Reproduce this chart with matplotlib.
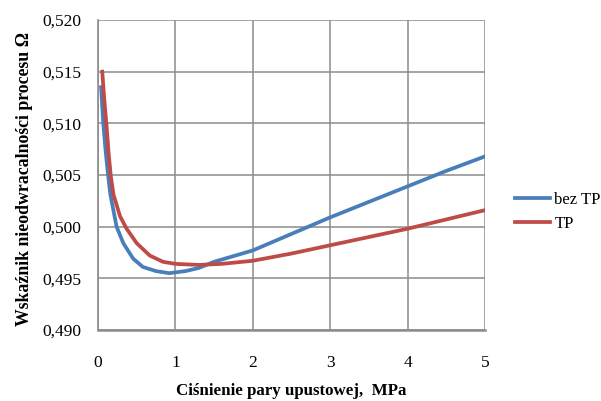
import numpy as np
import matplotlib.pyplot as plt

plt.rcParams['font.family'] = ['Liberation Serif', 'DejaVu Serif']

# bez TP
x_bez = [0.04, 0.068, 0.10, 0.13, 0.16, 0.24, 0.327, 0.455, 0.58, 0.75, 0.92, 1.13, 1.3, 1.5,
         2.0, 2.5, 3.0, 3.5, 4.0, 4.5, 5.0]
y_bez = [0.5135, 0.5100, 0.5072, 0.5050, 0.5031, 0.5000, 0.4984, 0.4969, 0.4961, 0.4957, 0.4955,
         0.4957, 0.4960, 0.4966, 0.4977, 0.4993, 0.5009, 0.5024, 0.5039, 0.5054, 0.5068]

# TP
x_tp = [0.055, 0.08, 0.11, 0.136, 0.165, 0.2, 0.285, 0.37, 0.5, 0.67, 0.84, 1.0, 1.3, 1.6,
        2.0, 2.5, 3.0, 3.5, 4.0, 4.5, 5.0]
y_tp = [0.5150, 0.5124, 0.5098, 0.5072, 0.5049, 0.5031, 0.5010, 0.4998, 0.4984, 0.4972, 0.4966,
        0.4964, 0.4963, 0.4964, 0.4967, 0.4974, 0.4982, 0.4990, 0.4998, 0.5007, 0.5016]

x_ticks = [0, 1, 2, 3, 4, 5]
y_ticks = [0.490, 0.495, 0.500, 0.505, 0.510, 0.515, 0.520]

fig = plt.figure(figsize=(6.01, 4.01), dpi=100)
ax = fig.add_axes([98/601, 1-330/401, (485-98)/601, (330-20)/401])

ax.plot(x_bez, y_bez, color='#4A7EBB', lw=2.7, label='bez TP', solid_joinstyle='round')
ax.plot(x_tp, y_tp, color='#BE4B48', lw=2.7, label='TP', solid_joinstyle='round')

ax.set_xlim(0, 5)
ax.set_ylim(0.490, 0.520)
ax.set_xticks(x_ticks)
ax.set_yticks(y_ticks)
ax.set_xticklabels([str(t) for t in x_ticks], fontsize=12.5)
ax.set_yticklabels([('%.3f' % t).replace('.', ',') for t in y_ticks], fontsize=12.5)
ax.tick_params(length=0)
ax.tick_params(axis='x', pad=18)
ax.tick_params(axis='y', pad=12)
ax.grid(True, color='#8c8c8c', lw=1.1)
ax.set_axisbelow(True)
for s in ['top', 'right']:
    ax.spines[s].set_visible(False)
ax.spines['left'].set_color('#8c8c8c')
ax.spines['bottom'].set_color('#8c8c8c')
ax.spines['left'].set_linewidth(1.2)
ax.spines['bottom'].set_linewidth(1.8)

fig.text(291/601, 1-391/401, 'Ciśnienie pary upustowej,  MPa', ha='center', va='center',
         fontsize=12.2, fontweight='bold')
fig.text(25/601, 1-179/401, 'Wskaźnik nieodwracalności procesu Ω', ha='center', va='center',
         rotation=90, fontsize=12.8, fontweight='bold')

fig.legend(loc='center left', bbox_to_anchor=(512/601, 1-212/401), frameon=False,
           fontsize=12, handlelength=2.1, handletextpad=0.25, labelspacing=0.5,
           borderaxespad=0, borderpad=0.2)

fig.savefig('out.png', dpi=100)
